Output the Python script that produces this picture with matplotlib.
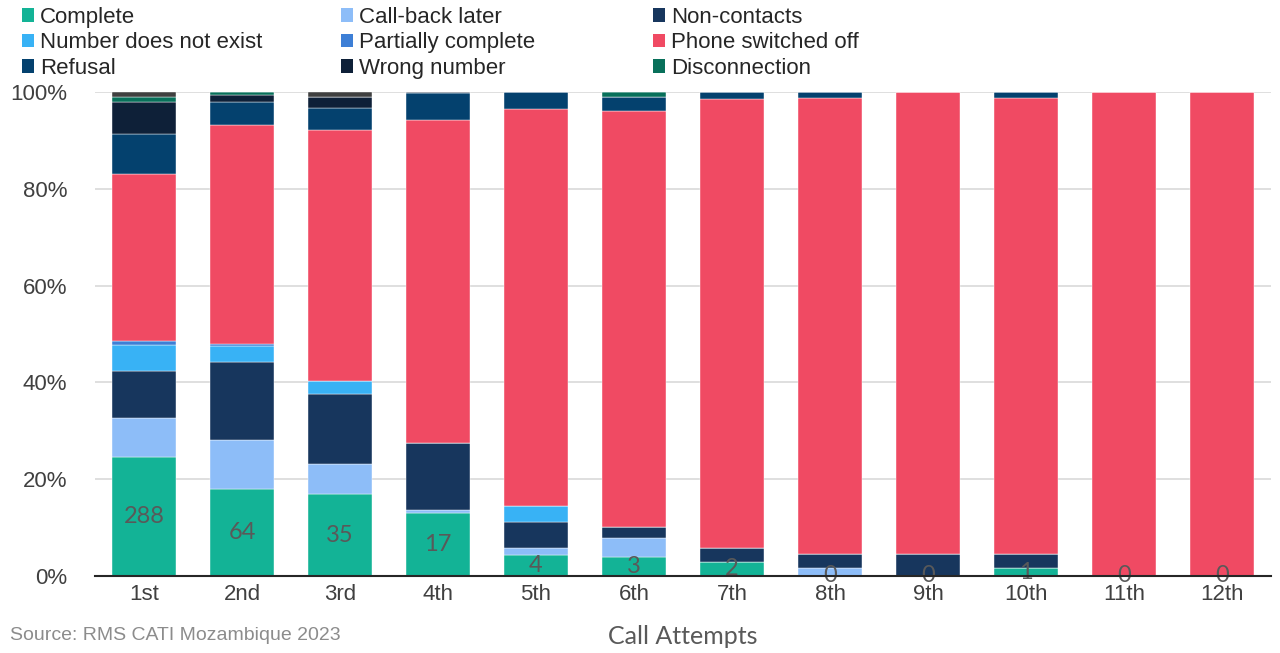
import matplotlib.pyplot as plt
from matplotlib.patches import Patch
from matplotlib.ticker import PercentFormatter

attempts = ['1st', '2nd', '3rd', '4th', '5th', '6th', '7th', '8th', '9th', '10th', '11th', '12th']

# shares of outcomes per attempt (%)
complete = [24.6, 17.9, 16.9, 13.0, 4.3, 3.9, 2.9, 0, 0, 1.6, 0, 0]
callback = [8.1, 10.1, 6.3, 0.6, 1.5, 3.9, 0, 1.6, 0, 0, 0, 0]
noncontacts = [9.7, 16.3, 14.5, 13.9, 5.3, 2.3, 2.9, 2.9, 4.5, 2.9, 0, 0]
not_exist = [5.4, 3.3, 2.5, 0, 3.4, 0, 0, 0, 0, 0, 0, 0]
partial = [0.7, 0.3, 0, 0, 0, 0, 0, 0, 0, 0, 0, 0]
switched_off = [34.6, 45.2, 52.0, 66.7, 82.0, 86.0, 92.7, 94.2, 95.5, 94.2, 100, 100]
refusal = [8.3, 4.8, 4.4, 5.5, 3.5, 2.9, 1.5, 1.3, 0, 1.3, 0, 0]
wrong = [6.6, 1.4, 2.4, 0.3, 0, 0, 0, 0, 0, 0, 0, 0]
disconnection = [1.0, 0.7, 0, 0, 0, 1.0, 0, 0, 0, 0, 0, 0]
other = [1.0, 0, 1.0, 0, 0, 0, 0, 0, 0, 0, 0, 0]

complete_counts = [288, 64, 35, 17, 4, 3, 2, 0, 0, 1, 0, 0]

series = [
    ('Complete', complete, '#13B396'),
    ('Call-back later', callback, '#8DBDF8'),
    ('Non-contacts', noncontacts, '#17365D'),
    ('Number does not exist', not_exist, '#38B2F5'),
    ('Partially complete', partial, '#3D7FD6'),
    ('Phone switched off', switched_off, '#F04A63'),
    ('Refusal', refusal, '#04416E'),
    ('Wrong number', wrong, '#0E2038'),
    ('Disconnection', disconnection, '#08705A'),
    ('Other', other, '#404040'),
]

plt.rcParams['font.family'] = ['Liberation Sans', 'DejaVu Sans']

fig = plt.figure(figsize=(12.8, 6.53), dpi=100)
ax = fig.add_axes([95 / 1280, 1 - 576 / 653, (1271 - 95) / 1280, (576 - 92) / 653])

x = list(range(len(attempts)))
bottom = [0.0] * len(attempts)
containers = {}
for name, vals, col in series:
    c = ax.bar(x, vals, 0.66, bottom=bottom, color=col, edgecolor='white', linewidth=0.3, zorder=2)
    containers[name] = c
    bottom = [b + v for b, v in zip(bottom, vals)]

ax.bar_label(containers['Complete'], labels=[str(n) for n in complete_counts], label_type='center',
             fontsize=17, color='#595959', family=['Lato', 'DejaVu Sans'])

ax.set_xlim(-0.5, len(attempts) - 0.5)
ax.set_ylim(0, 100)
ax.set_yticks([0, 20, 40, 60, 80, 100])
ax.yaxis.set_major_formatter(PercentFormatter(decimals=0))
ax.set_xticks(x)
ax.set_xticklabels(attempts)
ax.tick_params(axis='both', length=0, labelsize=16, colors='#404040')
ax.tick_params(axis='y', pad=20)
ax.tick_params(axis='x', pad=6)
ax.grid(axis='y', color='#d9d9d9', linewidth=1.2, zorder=0)
ax.set_axisbelow(True)
for s in ['top', 'right', 'left']:
    ax.spines[s].set_visible(False)
ax.spines['bottom'].set_color('#262626')
ax.spines['bottom'].set_linewidth(1.5)
ax.spines['bottom'].set_zorder(3)

# legend: three columns, placed by hand
colors = {name: col for name, vals, col in series}
columns = [
    (['Complete', 'Number does not exist', 'Refusal'], 22),
    (['Call-back later', 'Partially complete', 'Wrong number'], 341),
    (['Non-contacts', 'Phone switched off', 'Disconnection'], 653),
]
for names, px in columns:
    handles = [Patch(facecolor=colors[n], label=n) for n in names]
    fig.legend(handles=handles, loc='upper left', bbox_to_anchor=(px / 1280, 1 - 7 / 653),
               frameon=False, fontsize=16, handlelength=0.55, handleheight=0.55,
               handletextpad=0.25, labelspacing=0.2, borderpad=0, borderaxespad=0,
               labelcolor='#262626')

fig.text(683 / 1280, 1 - 636 / 653, 'Call Attempts', ha='center', va='center', fontsize=18,
         color='#595959', family=['Lato', 'DejaVu Sans'])
fig.text(10 / 1280, 1 - 636 / 653, 'Source: RMS CATI Mozambique 2023', ha='left', va='center',
         fontsize=14, color='#8c8c8c')

fig.savefig('out.png', dpi=100)
